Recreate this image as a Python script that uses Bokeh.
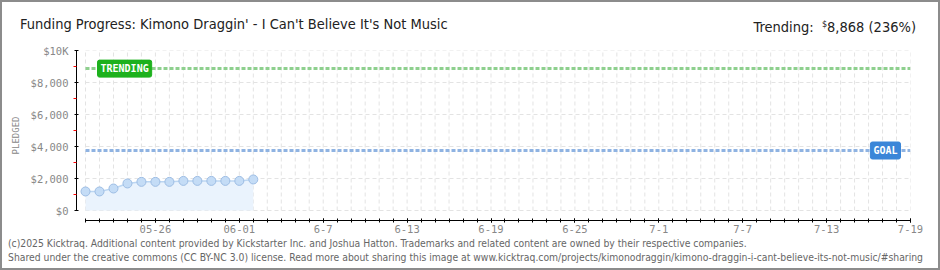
import pandas as pd
from bokeh.plotting import figure
from bokeh.layouts import column
from bokeh.models import (ColumnDataSource, FixedTicker, Range1d, Label, Div)
from bokeh.embed import file_html
from bokeh.resources import INLINE

# ---- data ----
title_text = "Funding Progress: Kimono Draggin' - I Can't Believe It's Not Music"
dates = ["2025-05-21", "2025-05-22", "2025-05-23", "2025-05-24", "2025-05-25",
         "2025-05-26", "2025-05-27", "2025-05-28", "2025-05-29", "2025-05-30",
         "2025-05-31", "2025-06-01", "2025-06-02"]
pledged = [1190, 1190, 1375, 1690, 1790, 1790, 1790, 1850, 1850, 1850, 1850, 1850, 1940]
goal = 3750
trending = 8868
trending_text = "8,868 (236%)"
campaign_start = "2025-05-21"
campaign_end = "2025-07-19"
xtick_dates = ["2025-05-26", "2025-06-01", "2025-06-07", "2025-06-13", "2025-06-19",
               "2025-06-25", "2025-07-01", "2025-07-07", "2025-07-13", "2025-07-19"]
xtick_labels = ["05-26", "06-01", "6-7", "6-13", "6-19", "6-25", "7-1", "7-7", "7-13", "7-19"]
ytick_values = [0, 2000, 4000, 6000, 8000, 10000]
ytick_labels = ["$0", "$2,000", "$4,000", "$6,000", "$8,000", "$10K"]
yminor_values = [1000, 3000, 5000, 7000, 9000]
footer1 = ("(c)2025 Kicktraq. Additional content provided by Kickstarter Inc. and Joshua Hatton. "
           "Trademarks and related content are owned by their respective companies.")
footer2 = ("Shared under the creative commons (CC BY-NC 3.0) license. Read more about sharing this image at "
           "www.kicktraq.com/projects/kimonodraggin/kimono-draggin-i-cant-believe-its-not-music/#sharing")

# ---- derived ----
t0 = pd.Timestamp(campaign_start)
def day(s):
    return (pd.Timestamp(s) - t0).days
xs = [day(d) for d in dates]
x_end = day(campaign_end)
all_days = list(range(0, x_end + 1))
xt = [day(d) for d in xtick_dates]

W = 936
mono = "DejaVu Sans Mono"
narrow = "'DejaVu Sans Condensed'"

# ---- header ----
HH = 40
header = Div(width=W, height=HH, margin=(0, 0, 0, 0), styles={"background": "white"}, text=(
    f'<div style="position:relative;width:{W}px;height:{HH}px;font-family:{narrow};color:#222;">'
    f'<span style="position:absolute;left:18px;top:12px;font-size:14.5px;line-height:20px;white-space:nowrap;">{title_text}</span>'
    f'<span style="position:absolute;right:22px;top:12px;font-size:14.5px;line-height:20px;white-space:nowrap;">'
    f'Trending:&nbsp;&nbsp;<span style="font-size:9px;vertical-align:5px;">$</span>{trending_text}</span>'
    '</div>'))

# ---- main chart ----
MH = 194  # page rows 42..236
p = figure(width=W, height=MH, output_backend="svg", toolbar_location=None,
           x_range=Range1d(-0.644, x_end), y_range=Range1d(-625, 10000),
           min_border_left=74, min_border_right=28, min_border_top=8, min_border_bottom=16,
           margin=(0, 0, 0, 0))
p.outline_line_color = None
p.background_fill_color = "white"
p.border_fill_color = "white"
p.xgrid.visible = False
p.ygrid.visible = False

p.segment(x0=all_days, x1=all_days, y0=[0] * len(all_days), y1=[10000] * len(all_days),
          line_color="#e3e3e3", line_width=1, line_dash="4 3")
p.segment(x0=[0] * len(ytick_values), x1=[x_end] * len(ytick_values), y0=ytick_values, y1=ytick_values,
          line_color="#e3e3e3", line_width=1, line_dash="4 3")

src = ColumnDataSource(dict(x=xs, y=pledged, z=[0] * len(xs)))
p.varea(x="x", y1="z", y2="y", source=src, fill_color="#eaf3fd")
p.line(x="x", y="y", source=src, line_color="#bcd6f2", line_width=1.5)
p.scatter(x="x", y="y", source=src, size=9, fill_color="#c4dcf6", line_color="#9dbde4", line_width=1)

p.line(x=[0, x_end], y=[trending, trending], line_color="#8ed08e", line_width=3, line_dash="4 2")
p.line(x=[0, x_end], y=[goal, goal], line_color="#8fb3e2", line_width=3, line_dash="4 2")

p.add_layout(Label(x=0, y=trending, x_offset=12, text="TRENDING", text_font=mono, text_font_size="10px",
                   text_font_style="bold", text_color="white", text_baseline="middle", text_align="left",
                   background_fill_color="#1db11d", border_line_color="#1db11d", padding=3, border_radius=2))
p.add_layout(Label(x=x_end, y=goal, x_offset=-10, text="GOAL", text_font=mono, text_font_size="10px",
                   text_font_style="bold", text_color="white", text_baseline="middle", text_align="right",
                   background_fill_color="#3b86d8", border_line_color="#3b86d8", padding=3, border_radius=2))

xa = p.xaxis[0]
xa.ticker = FixedTicker(ticks=xt, minor_ticks=all_days)
xa.major_label_overrides = {t: l for t, l in zip(xt, xtick_labels)}
xa.bounds = (0, x_end)
xa.axis_line_color = "black"
xa.major_tick_in = 2; xa.major_tick_out = 2
xa.minor_tick_in = 2; xa.minor_tick_out = 2
xa.minor_tick_line_color = "black"
xa.major_label_text_font = mono
xa.major_label_text_font_size = "10.5px"
xa.major_label_text_color = "#888888"
xa.major_label_standoff = 2

ya = p.yaxis[0]
ya.ticker = FixedTicker(ticks=ytick_values, minor_ticks=yminor_values)
ya.major_label_overrides = {t: l for t, l in zip(ytick_values, ytick_labels)}
ya.bounds = (0, 10000)
ya.major_tick_in = 2; ya.major_tick_out = 2
ya.minor_tick_in = 0; ya.minor_tick_out = 3
ya.minor_tick_line_color = "red"
ya.major_label_text_font = mono
ya.major_label_text_font_size = "10.5px"
ya.major_label_text_color = "#888888"
ya.major_label_standoff = 5
ya.axis_label = "PLEDGED"
ya.axis_label_text_font = mono
ya.axis_label_text_font_size = "9px"
ya.axis_label_text_font_style = "normal"
ya.axis_label_text_color = "#888888"
ya.axis_label_standoff = 7

# ---- footer ----
FH = 32  # page rows 236..268
footer = Div(width=W, height=FH, margin=(0, 0, 0, 0), styles={"background": "white"}, text=(
    f'<div style="position:relative;width:{W}px;height:{FH}px;font-family:{narrow};color:#666;'
    f'font-size:10.3px;line-height:14px;white-space:nowrap;">'
    f'<div style="position:absolute;left:6px;top:0px;">{footer1}</div>'
    f'<div style="position:absolute;left:6px;top:14px;">{footer2}</div>'
    '</div>'))

layout = column(header, p, footer, spacing=0, margin=(0, 0, 0, 0),
                styles={"border": "2px solid #8c8c8c"})
open("out.html", "w").write(file_html(layout, INLINE))
